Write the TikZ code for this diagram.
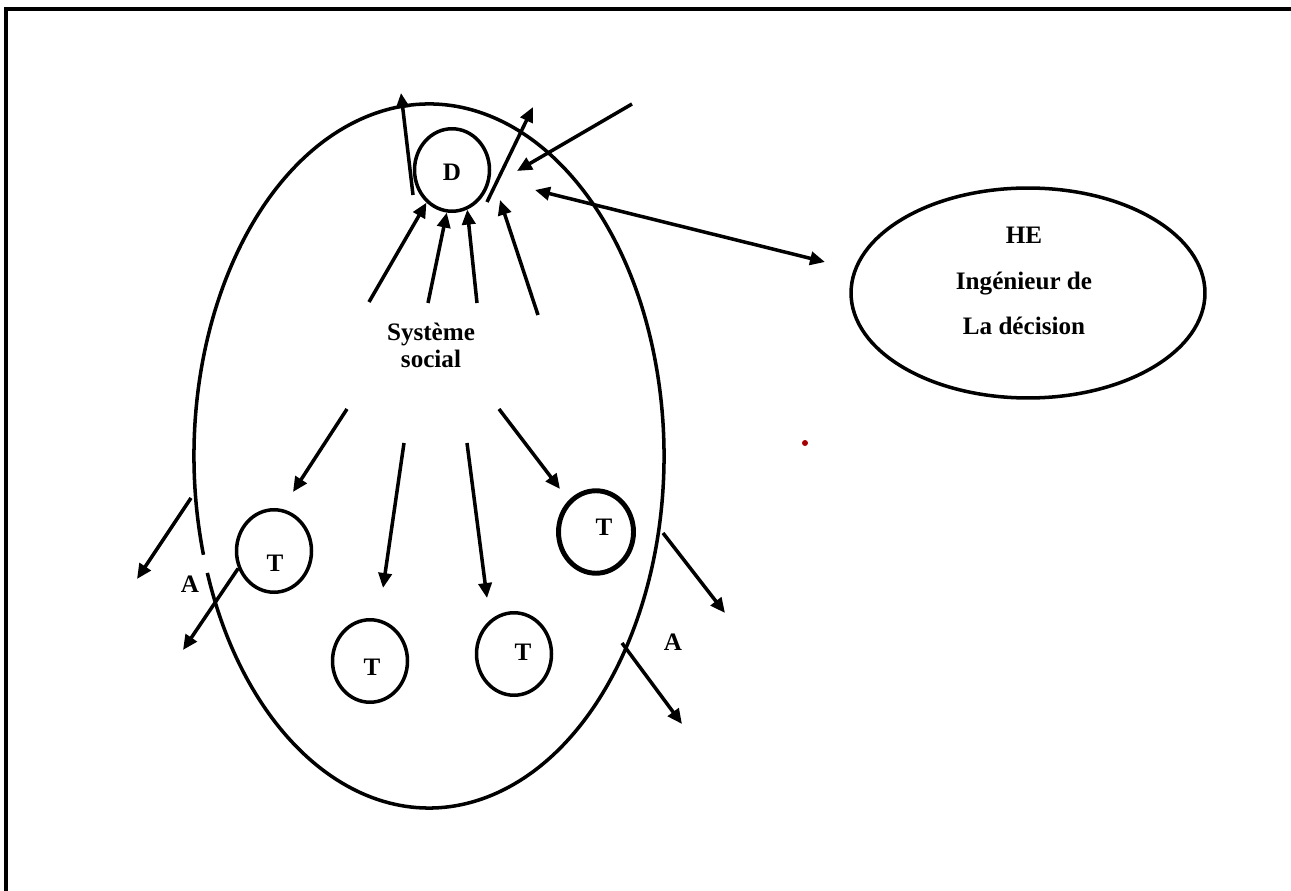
\documentclass[tikz,border=0pt]{standalone}
\usepackage{fontspec}
\setmainfont{Liberation Serif}
\usetikzlibrary{arrows.meta,shapes.geometric}

\tikzset{
  ln/.style={line width=2pt},
  circ/.style={ellipse,draw,line width=2pt,minimum width=1.5cm,minimum height=1.65cm,inner sep=0pt},
  txt/.style={font=\fontsize{14.3}{15.3}\selectfont\bfseries,inner sep=0pt,align=center},
}

\begin{document}
\begin{tikzpicture}[x=0.02cm,y=-0.02cm,>={Triangle[length=8.5pt,width=7.5pt]}]
\useasboundingbox (0,0) rectangle (1291,891);

% frame (top and left only)
\draw[line width=2.2pt] (6,891) -- (6,9) -- (1291,9);

% social system, open near the left A
\coordinate (C) at (429,456);
\draw[ln] (C) ++(163.7:235 and 352) arc[start angle=163.7,end angle=520.6,x radius=235,y radius=352];

% decision maker and the T's
\node[circ] (D) at (452,170) {};
\node[txt] (d) at (452,172) {D};
\node[circ] (T1) at (274,551) {};
\node[txt] (t1) at (275,563) {T};
\node[circ] (T2) at (370,661) {};
\node[txt] (t2) at (372,667) {T};
\node[circ] (T3) at (514,654) {};
\node[txt] (t3) at (523,652) {T};
\node[circ,line width=2.8pt] (T4) at (596,532) {};
\node[txt] (t4) at (604,527) {T};

\node[txt] (sys) at (431,345) {Système\\social};
\node[txt] (A1) at (190,584) {A};
\node[txt] (A2) at (673,642) {A};

% HE
\node[ellipse,draw,line width=2pt,minimum width=7.08cm,minimum height=4.2cm] (HE) at (1028,293) {};
\node[txt,font=\fontsize{14.3}{26}\selectfont\bfseries] (he) at (1024,281) {HE\\Ingénieur de\\La décision};

\fill[red!65!black] (805,443) circle (3);

% free ends
\coordinate (a1s) at (413,195);  \coordinate (a1e) at (401,93);
\coordinate (a2s) at (487,202);  \coordinate (a2e) at (533,107);
\coordinate (a3s) at (632,104);  \coordinate (a3e) at (517,171);
\coordinate (a4s) at (535,190);  \coordinate (a4e) at (825,262);
\coordinate (s1) at (369,302);
\coordinate (s2) at (428,303);
\coordinate (s3) at (477,303);
\coordinate (s4) at (538,315);   \coordinate (s4e) at (500,200);
\coordinate (b1) at (347,409);   \coordinate (b1e) at (293,492);
\coordinate (b2) at (404,443);   \coordinate (b2e) at (383,588);
\coordinate (b3) at (467,443);   \coordinate (b3e) at (487,598);
\coordinate (b4) at (499,409);   \coordinate (b4e) at (560,489);
\coordinate (o1e) at (183,650);
\coordinate (o2s) at (191,498);  \coordinate (o2e) at (137,579);
\coordinate (o3s) at (663,533);  \coordinate (o3e) at (725,613);
\coordinate (o4s) at (622,643);  \coordinate (o4e) at (682,724);

% around D
\draw[ln,->] (a1s) -- (a1e);
\draw[ln,->] (a2s) -- (a2e);
\draw[ln,->] (a3s) -- (a3e);
\draw[ln,<->] (a4s) -- (a4e);
\draw[ln,->] (s1) -- (D.232);
\draw[ln,->] (s2) -- (D.263);
\draw[ln,->] (s3) -- (D.291);
\draw[ln,->] (s4) -- (s4e);

% towards the T's
\draw[ln,->] (b1) -- (b1e);
\draw[ln,->] (b2) -- (b2e);
\draw[ln,->] (b3) -- (b3e);
\draw[ln,->] (b4) -- (b4e);

% out of the system
\draw[ln,->] (T1.206) -- (o1e);
\draw[ln,->] (o2s) -- (o2e);
\draw[ln,->] (o3s) -- (o3e);
\draw[ln,->] (o4s) -- (o4e);
\end{tikzpicture}
\end{document}
